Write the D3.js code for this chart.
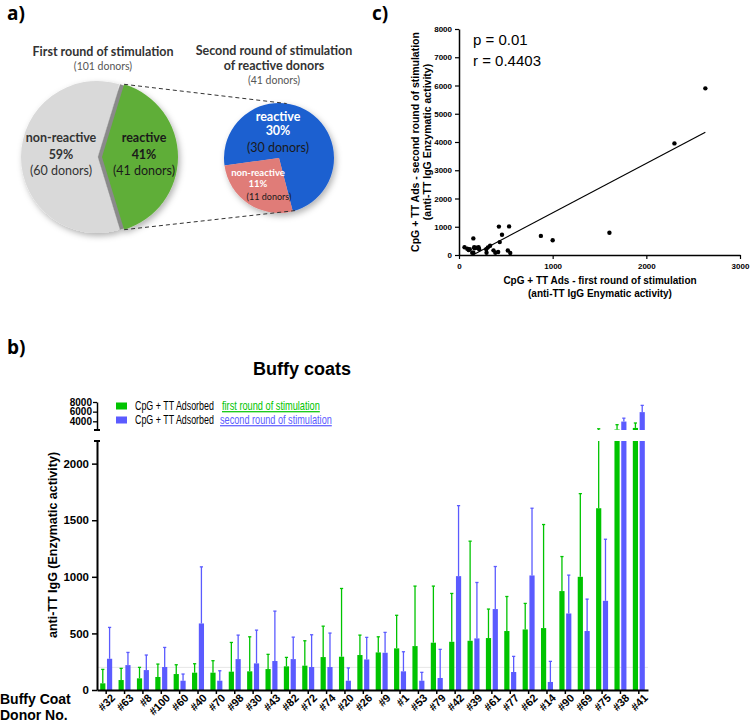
<!DOCTYPE html>
<html>
<head>
<meta charset="utf-8">
<script src="https://cdn.jsdelivr.net/npm/d3@7"></script>
<style>
  body { margin: 0; background: #fff; }
  svg { display: block; }
</style>
</head>
<body>
<script>
// ---- data ----
const donors = ["#32","#63","#8","#100","#60","#40","#70","#98","#30","#43","#82","#72","#74","#20","#26",
                "#9","#1","#53","#79","#42","#39","#61","#77","#62","#14","#90","#69","#75","#38","#41"];
const firstRound = [59,88,103,115,141,153,153,162,165,185,209,215,291,294,309,
                    332,368,388,418,426,435,459,521,535,547,874,1000,1606,2300,2630];
const firstRoundErr = [182,191,200,229,223,232,259,420,470,315,288,435,564,897,485,
                       470,660,918,918,853,1315,715,826,765,1462,1179,1735,2450,3300,3650];
const secondRound = [276,220,176,203,82,588,82,273,235,256,273,203,203,82,270,
                     329,165,82,106,1006,456,715,159,1012,71,676,521,788,3950,5900];
const secondRoundErr = [553,332,309,376,141,1088,170,485,529,697,467,488,503,195,465,
                        509,338,156,359,1629,950,1091,297,1606,253,1015,803,1332,4650,7300];
const threshold = 200;

const lowTicks = [0, 500, 1000, 1500, 2000];
const highTicks = [4000, 6000, 8000];
const scatterYTicks = [0,1000,2000,3000,4000,5000,6000,7000,8000];
const scatterXTicks = [0, 1000, 2000, 3000];

const totalDonors = 101;
const pie1Labels = ["reactive", "non-reactive"];
const pie1Values = [41, 60];
const pie2Labels = ["non-reactive", "reactive"];
const pie2Values = [11, 30];

const green = "#00c400", blue = "#5b5bff";
const fmtInt = d3.format("d");

const svg = d3.select("body").append("svg")
    .attr("width", 750)
    .attr("height", 722)
    .style("font-family", "'Liberation Sans', Arial, sans-serif");

const defs = svg.append("defs");
const shadow = defs.append("filter").attr("id", "shadow")
    .attr("x", "-20%").attr("y", "-20%").attr("width", "140%").attr("height", "140%");
shadow.append("feDropShadow")
    .attr("dx", 2).attr("dy", 3).attr("stdDeviation", 3)
    .attr("flood-color", "#000").attr("flood-opacity", 0.3);

// panel letters
[["a)", 7, 20], ["c)", 372, 20], ["b)", 7, 354]].forEach(([t, x, y]) => {
    svg.append("text").attr("x", x).attr("y", y)
        .style("font-family", "'Open Sans', sans-serif")
        .style("font-weight", "bold").style("font-size", "19px").text(t);
});

// ---- a) pies ----
const pieFont = "Lato, 'Open Sans', sans-serif";
const fmtPct = d3.format(".0%");

function pieText(x, y, str, size, weight, color) {
    svg.append("text").attr("x", x).attr("y", y)
        .attr("text-anchor", "middle")
        .style("font-family", pieFont)
        .style("font-size", size + "px")
        .style("font-weight", weight)
        .style("fill", color)
        .text(str);
}

pieText(103, 56, "First round of stimulation", 12.5, "bold", "#333");
pieText(103, 70, `(${totalDonors} donors)`, 10.5, "normal", "#555");
pieText(274, 55, "Second round of stimulation", 12.5, "bold", "#333");
pieText(274, 70, "of reactive donors", 12.5, "bold", "#333");
pieText(274, 84, `(${pie1Values[0]} donors)`, 10.5, "normal", "#555");

const c1 = [97, 157], r1 = 76, explode = 5;
const start1 = Math.PI / 2 - Math.PI * pie1Values[0] / d3.sum(pie1Values);
const pie1 = d3.pie().sort(null).startAngle(start1).endAngle(start1 + 2 * Math.PI)(pie1Values);
const arc1 = d3.arc().innerRadius(0).outerRadius(r1);

const g1 = svg.append("g").attr("transform", `translate(${c1})`).attr("filter", "url(#shadow)");
g1.append("path").attr("d", arc1(pie1[1])).attr("fill", "#d9d9d9");
g1.append("path").attr("d", arc1(pie1[0])).attr("transform", "translate(1,0)").attr("fill", "#8a8a8a");
g1.append("path").attr("d", arc1(pie1[0])).attr("transform", `translate(${explode},0)`).attr("fill", "#5fae37");

const labR = [42, 36];
pie1.forEach((p, i) => {
    const [lx, ly] = d3.arc().innerRadius(labR[i]).outerRadius(labR[i]).centroid(p);
    const x = c1[0] + lx + (i === 0 ? explode : 0), y = c1[1] + ly;
    const col = i === 0 ? "#1a1a1a" : "#333";
    pieText(x, y - 15, pie1Labels[i], 12.5, "bold", col);
    pieText(x, y + 2, fmtPct(pie1Values[i] / totalDonors), 12.5, "bold", col);
    pieText(x, y + 18, `(${pie1Values[i]} donors)`, 12.5, "normal", col);
});

const c2 = [279, 158], r2 = 55;
const start2 = 165.5 * Math.PI / 180;
const pie2 = d3.pie().sort(null).startAngle(start2).endAngle(start2 + 2 * Math.PI)(pie2Values);
const arc2 = d3.arc().innerRadius(0).outerRadius(r2);
const g2 = svg.append("g").attr("transform", `translate(${c2})`).attr("filter", "url(#shadow)");
g2.append("path").attr("d", arc2(pie2[1])).attr("fill", "#1f60d0");
g2.append("path").attr("d", arc2(pie2[0])).attr("fill", "#e07b78");

pieText(c2[0] - 1, c2[1] - 37, pie2Labels[1], 12.5, "bold", "#fff");
pieText(c2[0] - 1, c2[1] - 23, fmtPct(pie2Values[1] / totalDonors), 12.5, "bold", "#fff");
pieText(c2[0] - 1, c2[1] - 6, `(${pie2Values[1]} donors)`, 12.5, "normal", "#1a1a1a");
pieText(c2[0] - 21, c2[1] + 18, pie2Labels[0], 9.5, "bold", "#fff");
pieText(c2[0] - 21, c2[1] + 29, fmtPct(pie2Values[0] / totalDonors), 9.5, "bold", "#fff");
pieText(c2[0] - 10, c2[1] + 42, `(${pie2Values[0]} donors)`, 9, "normal", "#1a1a1a");

// connector lines
const pt = (c, r, a, dx = 0) => [c[0] + dx + r * Math.sin(a), c[1] - r * Math.cos(a)];
const conn = [
    [pt(c1, r1, pie1[0].startAngle, explode), pt(c2, r2, 8 * Math.PI / 180)],
    [pt(c1, r1, pie1[0].endAngle, explode), pt(c2, r2, 163 * Math.PI / 180)]
];
conn.forEach(([a, b]) => {
    svg.append("line")
        .attr("x1", a[0]).attr("y1", a[1]).attr("x2", b[0]).attr("y2", b[1])
        .attr("stroke", "#333").attr("stroke-width", 1).attr("stroke-dasharray", "4,3");
});

// ---- c) scatter ----
const sx = d3.scaleLinear().domain([0, 3000]).range([459, 740]);
const sy = d3.scaleLinear().domain([0, 8000]).range([255, 29]);
const sc = svg.append("g");

sc.append("g").attr("transform", `translate(0,${sy(0)})`)
    .call(d3.axisBottom(sx).tickValues(scatterXTicks).tickSize(4).tickSizeOuter(0).tickFormat(fmtInt))
    .call(g => g.select(".domain").attr("stroke-width", 1.5))
    .call(g => g.selectAll("line").attr("stroke-width", 1.2))
    .call(g => g.selectAll("text").style("font-size", "8px").style("font-weight", "bold")
        .style("font-family", "'Liberation Sans', Arial, sans-serif").attr("dy", "0.9em"));
sc.append("g").attr("transform", `translate(${sx(0)},0)`)
    .call(d3.axisLeft(sy).tickValues(scatterYTicks).tickSize(4).tickSizeOuter(0).tickFormat(fmtInt))
    .call(g => g.select(".domain").attr("stroke-width", 1.5))
    .call(g => g.selectAll("line").attr("stroke-width", 1.2))
    .call(g => g.selectAll("text").style("font-size", "8px").style("font-weight", "bold")
        .style("font-family", "'Liberation Sans', Arial, sans-serif"));

// least-squares fit of second vs first round
const mx = d3.mean(firstRound), my = d3.mean(secondRound);
const slope = d3.sum(firstRound, (x, i) => (x - mx) * (secondRound[i] - my)) /
              d3.sum(firstRound, x => (x - mx) * (x - mx));
const intercept = my - slope * mx;
const fitX0 = Math.max(d3.min(firstRound), -intercept / slope), fitX1 = d3.max(firstRound);
sc.append("line")
    .attr("x1", sx(fitX0)).attr("y1", sy(slope * fitX0 + intercept))
    .attr("x2", sx(fitX1)).attr("y2", sy(slope * fitX1 + intercept))
    .attr("stroke", "#000").attr("stroke-width", 1.2);

sc.selectAll("circle").data(firstRound).enter().append("circle")
    .attr("cx", d => sx(d)).attr("cy", (d, i) => sy(secondRound[i]))
    .attr("r", 2.2).attr("fill", "#000");

sc.append("text").attr("x", 473).attr("y", 45).style("font-size", "15px").text("p = 0.01");
sc.append("text").attr("x", 473).attr("y", 66).style("font-size", "15px").text("r = 0.4403");

sc.append("text").attr("transform", "translate(419,142) rotate(-90)")
    .attr("text-anchor", "middle").style("font-size", "10.5px").style("font-weight", "bold")
    .text("CpG + TT Ads - second round of stimulation");
sc.append("text").attr("transform", "translate(431,142) rotate(-90)")
    .attr("text-anchor", "middle").style("font-size", "10.5px").style("font-weight", "bold")
    .text("(anti-TT IgG Enzymatic activity)");
sc.append("text").attr("x", 600).attr("y", 284)
    .attr("text-anchor", "middle").style("font-size", "10px").style("font-weight", "bold")
    .text("CpG + TT Ads - first round of stimulation");
sc.append("text").attr("x", 600).attr("y", 297)
    .attr("text-anchor", "middle").style("font-size", "10px").style("font-weight", "bold")
    .text("(anti-TT IgG Enymatic activity)");

// ---- b) bar chart with broken axis ----
const breakLow = 2200;
const x = d3.scaleBand().domain(donors).range([97, 648]).padding(0);
const yLow = d3.scaleLinear().domain([0, breakLow]).range([690, 441]);
const yHigh = d3.scaleLinear().domain([breakLow, 8000]).range([430, 402]);
const barW = 5.2, gap = 1.6;

const bars = svg.append("g");

// threshold line
bars.append("line")
    .attr("x1", 97).attr("x2", 648)
    .attr("y1", yLow(threshold)).attr("y2", yLow(threshold))
    .attr("stroke", "#e6e6e6").attr("stroke-width", 1);

function drawSeries(means, errs, color, offset) {
    donors.forEach((d, i) => {
        const cx = x(d) + x.bandwidth() / 2 + offset;
        const v = means[i], e = errs[i];
        // lower segment
        bars.append("rect")
            .attr("x", cx - barW / 2).attr("width", barW)
            .attr("y", yLow(Math.min(v, breakLow)))
            .attr("height", yLow(0) - yLow(Math.min(v, breakLow)))
            .attr("fill", color);
        // upper segment
        if (v > breakLow) {
            bars.append("rect")
                .attr("x", cx - barW / 2).attr("width", barW)
                .attr("y", yHigh(v)).attr("height", yHigh(breakLow) - yHigh(v))
                .attr("fill", color);
        }
        // error bar (upper only)
        if (v < breakLow) {
            bars.append("line").attr("x1", cx).attr("x2", cx)
                .attr("y1", yLow(v)).attr("y2", yLow(Math.min(e, breakLow)))
                .attr("stroke", color).attr("stroke-width", 1.3);
        }
        if (e > breakLow) {
            bars.append("line").attr("x1", cx).attr("x2", cx)
                .attr("y1", yHigh(Math.max(v, breakLow))).attr("y2", yHigh(e))
                .attr("stroke", color).attr("stroke-width", 1.3);
        }
        const capY = e > breakLow ? yHigh(e) : yLow(e);
        bars.append("line").attr("x1", cx - 1.6).attr("x2", cx + 1.6)
            .attr("y1", capY).attr("y2", capY)
            .attr("stroke", color).attr("stroke-width", 1.3);
    });
}
drawSeries(firstRound, firstRoundErr, green, -(barW + gap) / 2);
drawSeries(secondRound, secondRoundErr, blue, (barW + gap) / 2);

// x axis
svg.append("g").attr("transform", `translate(0,${yLow(0)})`)
    .call(d3.axisBottom(x).tickSize(4).tickSizeOuter(0))
    .call(g => g.select(".domain").attr("stroke-width", 2))
    .call(g => g.selectAll("line").attr("stroke-width", 1.5))
    .call(g => g.selectAll("text")
        .style("font-family", "'Liberation Sans', Arial, sans-serif")
        .style("font-size", "11px").style("font-weight", "bold")
        .attr("text-anchor", "end")
        .attr("transform", "translate(5,4) rotate(-45)")
        .attr("dy", "0.6em").attr("y", 0).attr("x", 0));

// y axis lower
svg.append("g").attr("transform", "translate(97,0)")
    .call(d3.axisLeft(yLow).tickValues(lowTicks).tickSize(5).tickSizeOuter(0).tickFormat(fmtInt))
    .call(g => g.select(".domain").attr("stroke-width", 2))
    .call(g => g.selectAll("line").attr("stroke-width", 1.5))
    .call(g => g.selectAll("text").style("font-family", "'Liberation Sans', Arial, sans-serif")
        .style("font-size", "11.5px").style("font-weight", "bold"));
svg.append("line").attr("x1", 94).attr("x2", 100).attr("y1", yLow(breakLow)).attr("y2", yLow(breakLow))
    .attr("stroke", "#000").attr("stroke-width", 2);

// y axis upper
svg.append("g").attr("transform", "translate(97,0)")
    .call(d3.axisLeft(yHigh).tickValues(highTicks).tickSize(4).tickSizeOuter(0).tickFormat(fmtInt))
    .call(g => g.select(".domain").attr("stroke-width", 1.5))
    .call(g => g.selectAll("line").attr("stroke-width", 1.3))
    .call(g => g.selectAll("text").style("font-family", "'Liberation Sans', Arial, sans-serif")
        .style("font-size", "10px").style("font-weight", "bold").attr("x", -5));
svg.append("line").attr("x1", 94).attr("x2", 100).attr("y1", yHigh(breakLow)).attr("y2", yHigh(breakLow))
    .attr("stroke", "#000").attr("stroke-width", 2);

svg.append("text").attr("transform", "translate(57,545) rotate(-90)")
    .attr("text-anchor", "middle").style("font-size", "12.5px").style("font-weight", "bold")
    .text("anti-TT IgG (Enzymatic activity)");

svg.append("text").attr("x", 302).attr("y", 375).attr("text-anchor", "middle")
    .style("font-size", "18px").style("font-weight", "bold").text("Buffy coats");

svg.append("text").attr("x", 0).attr("y", 704).style("font-size", "14px").style("font-weight", "bold").text("Buffy Coat");
svg.append("text").attr("x", 0).attr("y", 720).style("font-size", "14px").style("font-weight", "bold").text("Donor No.");

// legend (condensed text, squeezed horizontally to the reference widths)
function squeezedText(x0, y0, str, targetW, color, underline) {
    const g = svg.append("g");
    const t = g.append("text").attr("x", 0).attr("y", 0).style("font-size", "12px")
        .style("fill", color).text(str);
    if (underline) t.style("text-decoration", "underline");
    const w = t.node().getComputedTextLength();
    g.attr("transform", `translate(${x0},${y0}) scale(${targetW / w},1)`);
}
const legend = [
    { color: green, note: "first round of stimulation", w: 98, x: 222 },
    { color: blue, note: "second round of stimulation", w: 112, x: 220 }
];
legend.forEach((l, i) => {
    const y = 406 + i * 14;
    svg.append("rect").attr("x", 116).attr("y", y - 3.5).attr("width", 11).attr("height", 7).attr("fill", l.color);
    squeezedText(135, y + 4, "CpG + TT Adsorbed", 79, "#000", false);
    squeezedText(l.x, y + 4, l.note, l.w, l.color, true);
});
</script>
</body>
</html>
